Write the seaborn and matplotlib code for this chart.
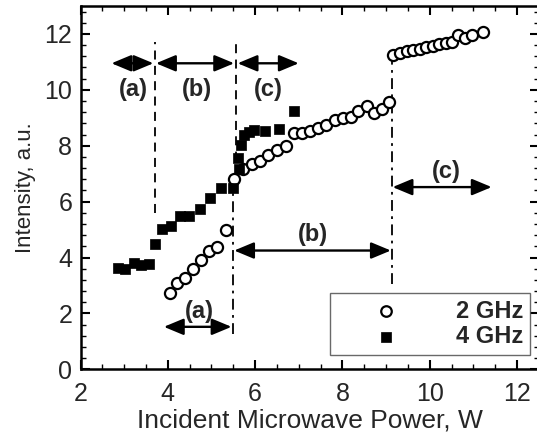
import numpy as np
import pandas as pd
import seaborn as sns
import matplotlib.pyplot as plt
from matplotlib.ticker import MultipleLocator

# 2 GHz (open circles)
x_2ghz = [4.05, 4.20, 4.39, 4.57, 4.75, 4.94, 5.13, 5.33,
          5.52, 5.73, 5.92, 6.11, 6.30, 6.50, 6.70, 6.88, 7.07, 7.25, 7.43, 7.63,
          7.83, 8.02, 8.19, 8.36, 8.57, 8.73, 8.90, 9.07,
          9.17, 9.32, 9.47, 9.62, 9.77, 9.92, 10.07, 10.22, 10.37, 10.50,
          10.66, 10.82, 10.97, 11.22]
y_2ghz = [2.74, 3.10, 3.27, 3.59, 3.92, 4.25, 4.36, 4.99,
          6.80, 7.18, 7.33, 7.47, 7.66, 7.83, 7.98, 8.46, 8.46, 8.52, 8.62, 8.75,
          8.93, 8.99, 9.02, 9.25, 9.41, 9.17, 9.30, 9.56,
          11.25, 11.33, 11.38, 11.42, 11.46, 11.52, 11.57, 11.63, 11.68, 11.70,
          11.96, 11.86, 11.95, 12.08]

# 4 GHz (filled squares)
x_4ghz = [2.87, 3.02, 3.22, 3.38, 3.57, 3.70, 3.87, 4.08, 4.28, 4.49, 4.74, 4.97,
          5.23, 5.50, 5.62, 5.60, 5.67, 5.75, 5.85, 5.97, 6.22, 6.55, 6.88]
y_4ghz = [3.62, 3.59, 3.80, 3.75, 3.76, 4.48, 5.02, 5.12, 5.49, 5.49, 5.72, 6.14,
          6.48, 6.48, 7.17, 7.57, 8.04, 8.40, 8.48, 8.55, 8.53, 8.60, 9.23]

df2 = pd.DataFrame({"power": x_2ghz, "intensity": y_2ghz})
df4 = pd.DataFrame({"power": x_4ghz, "intensity": y_4ghz})

sns.set_style("ticks")
plt.rcParams['font.family'] = ['Liberation Sans', 'DejaVu Sans']

fig = plt.figure(figsize=(5.37, 4.42), dpi=100)
ax = fig.add_axes([80.5 / 537, 1 - 369.3 / 442, (538.8 - 80.5) / 537, (369.3 - 6) / 442])

sns.scatterplot(data=df2, x="power", y="intensity", ax=ax, marker="o", s=64,
                facecolor="white", edgecolor="black", linewidth=1.6, label="2 GHz", zorder=3)
sns.scatterplot(data=df4, x="power", y="intensity", ax=ax, marker="s", s=58,
                color="black", edgecolor="black", linewidth=0.5, label="4 GHz", zorder=3)

ax.set_xlim(2, 12.5)
ax.set_ylim(0, 13)
ax.xaxis.set_major_locator(MultipleLocator(2))
ax.xaxis.set_minor_locator(MultipleLocator(0.5))
ax.yaxis.set_major_locator(MultipleLocator(2))
ax.yaxis.set_minor_locator(MultipleLocator(0.4))
ax.tick_params(which="both", direction="in", top=True, right=True, color="black")
ax.tick_params(which="major", length=6.5, width=1.5, labelsize=18)
ax.tick_params(axis="x", which="major", pad=9)
ax.tick_params(axis="y", which="major", pad=6)
ax.tick_params(which="minor", length=3.5, width=1.0)
for sp in ax.spines.values():
    sp.set_linewidth(1.8)
    sp.set_color("black")

ax.set_xlabel("Incident Microwave Power, W", fontsize=19, labelpad=2)
ax.set_ylabel("Intensity, a.u.", fontsize=16, labelpad=6)

# region boundaries
dash = (0, (5, 3.5))
dashdot = (0, (6, 3, 1.5, 3))
ax.plot([3.70, 3.70], [5.6, 11.7], color="black", lw=1.3, ls=dash, zorder=2)
ax.plot([5.56, 5.56], [6.9, 11.7], color="black", lw=1.3, ls=dash, zorder=2)
ax.plot([5.50, 5.50], [1.28, 6.6], color="black", lw=1.3, ls=dashdot, zorder=2)
ax.plot([9.13, 9.13], [3.07, 11.2], color="black", lw=1.3, ls=dashdot, zorder=2)

arrow = dict(arrowstyle="<|-|>,head_length=0.6,head_width=0.25", color="black",
             lw=1.7, mutation_scale=20, shrinkA=0, shrinkB=0)
spans = [(2.71, 3.67, 10.95), (3.73, 5.52, 10.95), (5.60, 7.00, 10.95),
         (3.91, 5.46, 1.52), (5.52, 9.11, 4.25), (9.15, 11.42, 6.52)]
for x1, x2, yy in spans:
    ax.annotate("", xy=(x2, yy), xytext=(x1, yy), arrowprops=arrow)

labels = [("(a)", 3.21, 10.0), ("(b)", 4.66, 10.0), ("(c)", 6.30, 10.0),
          ("(a)", 4.72, 2.07), ("(b)", 7.32, 4.84), ("(c)", 10.39, 7.09)]
for txt, lx, ly in labels:
    ax.text(lx, ly, txt, fontsize=17, fontweight="bold", ha="center", va="center")

leg = ax.legend(loc="lower right", bbox_to_anchor=(0.981, 0.039), borderaxespad=0,
                prop={"weight": "bold", "size": 17}, frameon=True, fancybox=False,
                handlelength=4.1, handletextpad=0.9, borderpad=0.3, labelspacing=0.1,
                markerscale=0.95)
leg.get_frame().set_edgecolor("#444444")
leg.get_frame().set_linewidth(1.0)

fig.savefig("out.png", dpi=100)
